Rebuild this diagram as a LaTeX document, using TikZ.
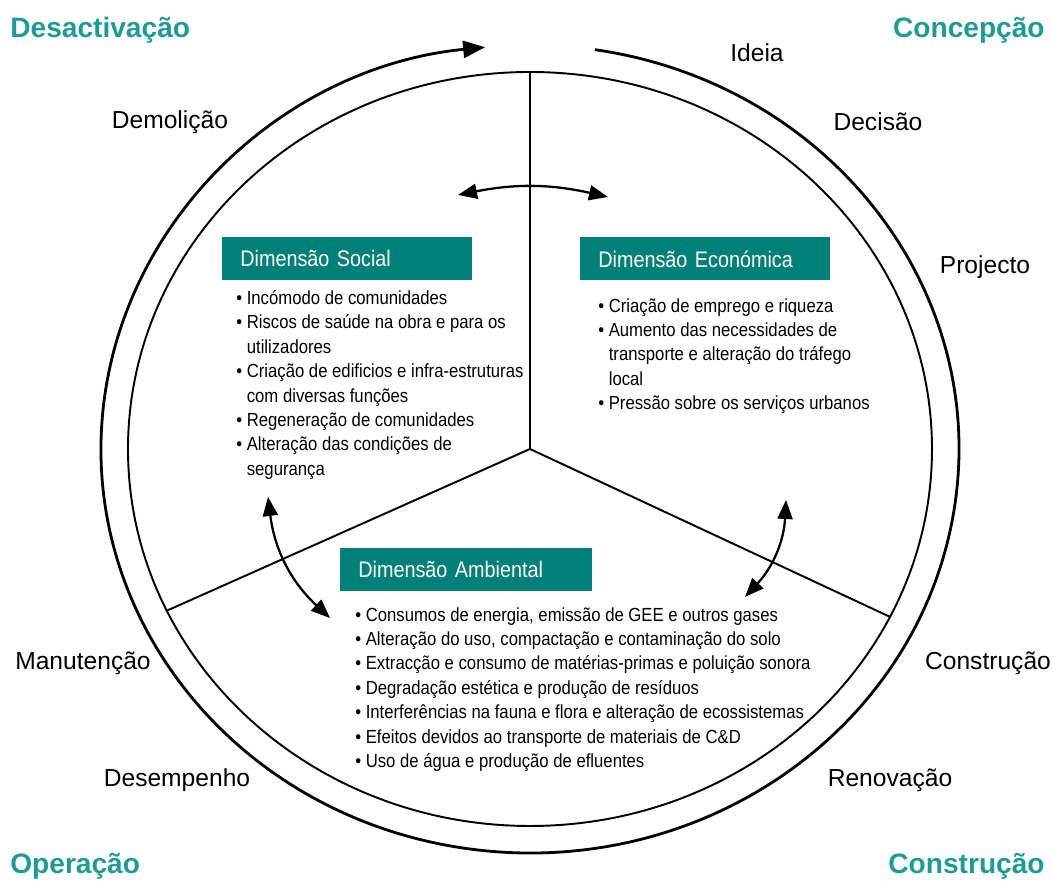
\documentclass[tikz,border=0pt]{standalone}
\usepackage{fontspec}
\setmainfont{Liberation Sans}
\newfontfamily\narrowfont[FakeStretch=0.88]{Liberation Sans}
\usetikzlibrary{arrows.meta}
\usetikzlibrary{shapes.geometric}
\usetikzlibrary{positioning}
\definecolor{dimteal}{RGB}{0,128,120}
\definecolor{phaseteal}{RGB}{30,155,150}

\begin{document}
\begin{tikzpicture}[
        phase/.style={font=\fontsize{16}{19}\selectfont\bfseries, text=phaseteal, inner sep=0pt},
        stage/.style={font=\fontsize{14}{17}\selectfont, inner sep=0pt},
        dimbox/.style={fill=dimteal, text=white, font=\narrowfont\fontsize{12.8}{15}\selectfont,
            text width=4.28cm, inner xsep=0.36cm, minimum height=0.86cm, anchor=north west, align=left},
        itemlist/.style={font=\narrowfont\fontsize{10.8}{13.9}\selectfont, align=left, anchor=north west, inner sep=0pt},
        link/.style={line width=1.3pt, {Triangle[length=0.38cm,width=0.3cm]}-{Triangle[length=0.38cm,width=0.3cm]}}
    ]
            \useasboundingbox (-10.6,-8.7) rectangle (10.46,8.98);

            \draw[black, line width=1.6pt, -{Triangle[length=0.44cm,width=0.34cm]}]
                (81.3:8.58cm and 8.08cm) arc[start angle=81.3, end angle=-264, x radius=8.58cm, y radius=8.08cm];
            \node[draw, black, line width=1.1pt, ellipse, minimum width=16.08cm, minimum height=15.08cm, inner sep=0pt] (cycle) at (0,0) {};
            \coordinate (hub) at (0,0);
            \draw[black, line width=1.1pt] (hub) -- (cycle.north);
            \draw[black, line width=1.1pt] (hub) -- (cycle.204.3);
            \draw[black, line width=1.1pt] (hub) -- (cycle.335.7);

            \node[phase, anchor=west] (desact) at (-10.4,8.38) {Desactivação};
            \node[phase, anchor=east] (concep) at (10.3,8.38) {Concepção};
            \node[phase, anchor=west] (operac) at (-10.4,-8.34) {Operação};
            \node[phase, anchor=east] (constr) at (10.3,-8.34) {Construção};

            \node[stage] (ideia) at (4.54,7.92) {Ideia};
            \node[stage] (decisao) at (6.96,6.54) {Decisão};
            \node[stage] (projecto) at (9.1,3.64) {Projecto};
            \node[stage] (construcao) at (9.16,-4.28) {Construção};
            \node[stage] (renovacao) at (7.2,-6.62) {Renovação};
            \node[stage] (desempenho) at (-7.06,-6.62) {Desempenho};
            \node[stage] (manutencao) at (-8.94,-4.28) {Manutenção};
            \node[stage] (demolicao) at (-7.2,6.54) {Demolição};

            \node[dimbox] (social) at (-6.16,4.24) {Dimensão Social};
            \node[dimbox] (economica) at (1.0,4.24) {Dimensão Económica};
            \node[dimbox, text width=4.32cm] (ambiental) at (-3.8,-1.98) {Dimensão Ambiental};

            \node[itemlist] (sociallist) at (-5.88,3.18) {%
                • Incómodo de comunidades\\
                • Riscos de saúde na obra e para os\\
                \phantom{• }utilizadores\\
                • Criação de edificios e infra-estruturas\\
                \phantom{• }com diversas funções\\
                • Regeneração de comunidades\\
                • Alteração das condições de\\
                \phantom{• }segurança};
            \node[itemlist] (economicalist) at (1.36,3.02) {%
                • Criação de emprego e riqueza\\
                • Aumento das necessidades de\\
                \phantom{• }transporte e alteração do tráfego\\
                \phantom{• }local\\
                • Pressão sobre os serviços urbanos};
            \node[itemlist] (ambientallist) at (-3.5,-3.16) {%
                • Consumos de energia, emissão de GEE e outros gases\\
                • Alteração do uso, compactação e contaminação do solo\\
                • Extracção e consumo de matérias-primas e poluição sonora\\
                • Degradação estética e produção de resíduos\\
                • Interferências na fauna e flora e alteração de ecossistemas\\
                • Efeitos devidos ao transporte de materiais de C\&D\\
                • Uso de água e produção de efluentes};

            \coordinate (socialtop) at (-1.44,5.08);
            \coordinate (economicatop) at (1.56,5.04);
            \coordinate (socialbot) at (-5.24,-0.96);
            \coordinate (ambientalleft) at (-4.0,-3.38);
            \coordinate (economicabot) at (5.12,-1.02);
            \coordinate (ambientalright) at (4.3,-2.96);
            \draw[link] (socialtop) to[bend left=12] (economicatop);
            \draw[link] (socialbot) to[bend right=20] (ambientalleft);
            \draw[link] (economicabot) to[bend left=20] (ambientalright);
        \end{tikzpicture}
\end{document}
